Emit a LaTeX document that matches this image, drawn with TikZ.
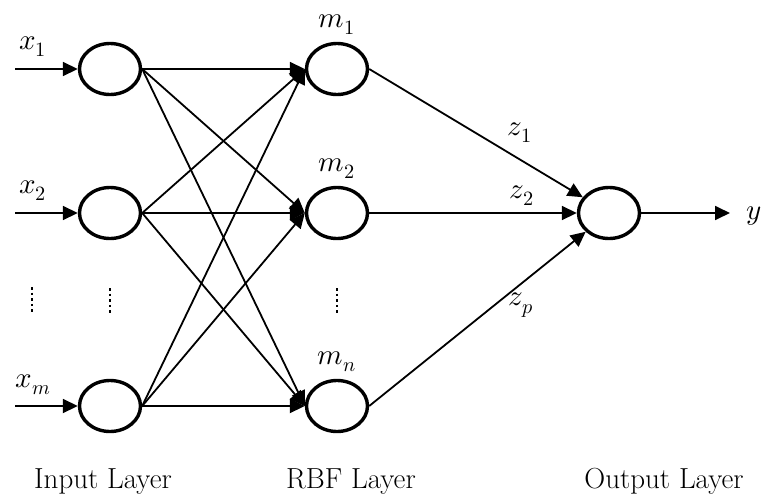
\documentclass[tikz,border=0pt]{standalone}
\usepackage{tikz}
\usepackage{unicode-math}
\usetikzlibrary{arrows.meta,shapes.geometric}
\begin{document}
\begin{tikzpicture}[x=1pt,y=-1pt]
\tikzstyle{neuron} = [ellipse, draw, line width=3.4pt, minimum width=61pt,
minimum height=51pt, inner sep=0pt]
\tikzstyle{line} = [draw, line width=1.8pt, -{Triangle[length=15pt,width=14pt]}]
\tikzstyle{lbl} = [font=\fontsize{29}{34}\selectfont, inner sep=0pt]
\tikzstyle{dots} = [line width=2.6pt, dash pattern=on 2.6pt off 3pt]
\useasboundingbox (0,0) rectangle (764,496);
% input layer
\node [neuron] (in1) at (110,69) {};
\node [neuron] (in2) at (110,213) {};
\node [neuron] (inm) at (110,406) {};
\coordinate (x1) at (15,69);
\coordinate (x2) at (15,213);
\coordinate (xm) at (15,406);
\node [lbl] (lx1) at (33,47) {$x_1$};
\node [lbl] (lx2) at (33,191) {$x_2$};
\node [lbl] (lxm) at (33,385) {$x_m$};
% rbf layer
\node [neuron] (rbf1) at (337,69) {};
\node [neuron] (rbf2) at (337,213) {};
\node [neuron] (rbfn) at (337,406) {};
\node [lbl] (lm1) at (337,25) {$m_1$};
\node [lbl] (lm2) at (337,169) {$m_2$};
\node [lbl] (lmn) at (337,362) {$m_n$};
% output layer
\node [neuron] (out) at (609,213) {};
\coordinate (y) at (730,213);
\node [lbl, anchor=west] (ly) at (746,216) {$y$};
\node [lbl] (lz1) at (520,133) {$z_1$};
\node [lbl] (lz2) at (522,196) {$z_2$};
\node [lbl] (lzp) at (521,305) {$z_p$};
% layer names
\node [lbl, anchor=base] (inname) at (103,488) {Input Layer};
\node [lbl, anchor=base] (rbfname) at (351,488) {RBF Layer};
\node [lbl, anchor=base] (outname) at (664,488) {Output Layer};
% dots
\draw [dots] (32,287) -- (32,312);
\draw [dots] (110,288) -- (110,313);
\draw [dots] (337,288) -- (337,313);

\path [line] (x1) -- (in1);
\path [line] (x2) -- (in2);
\path [line] (xm) -- (inm);
\foreach \s in {in1,in2,inm}
  \foreach \t in {rbf1,rbf2,rbfn}
    \path [line] (\s.east) -- (\t.west);
\path [line] (rbf1.east) -- (out);
\path [line] (rbf2.east) -- (out);
\path [line] (rbfn.east) -- (out);
\path [line] (out.east) -- (y);
\end{tikzpicture}
\end{document}
